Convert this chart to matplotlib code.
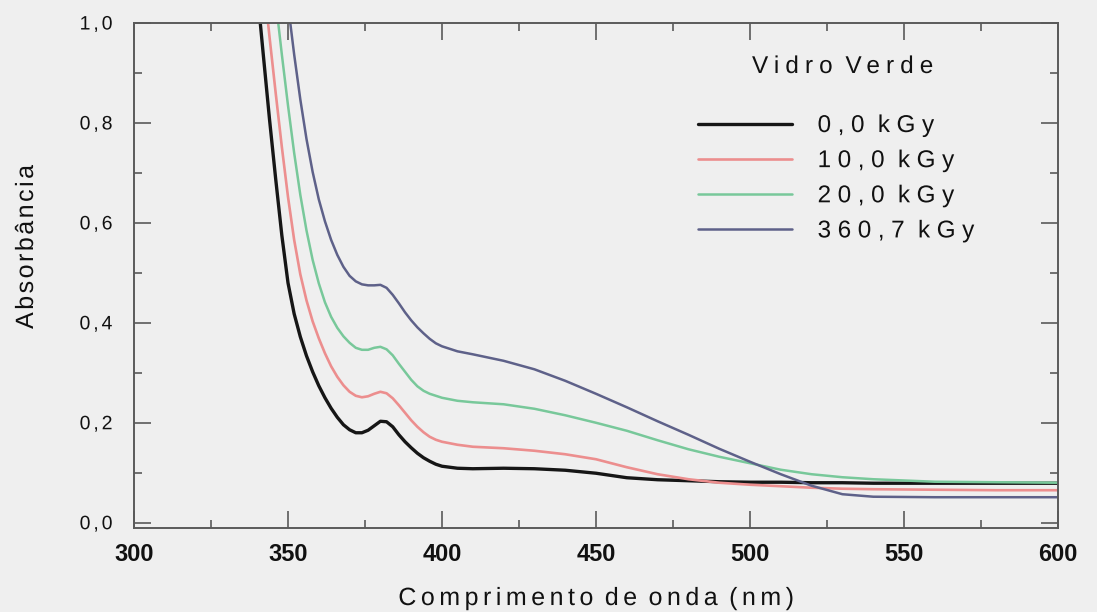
import numpy as np
import matplotlib
matplotlib.use("Agg")
import matplotlib.pyplot as plt
from matplotlib.path import Path
from matplotlib.patheffects import AbstractPathEffect

# UV-Vis absorbance of green glass after gamma irradiation
nan = float("nan")
wavelength = [340, 342, 344, 346, 348, 350, 352, 354, 356, 358, 360, 362, 364, 366, 368,
              370, 372, 374, 376, 378, 380, 382, 384, 386, 388, 390, 392, 394, 396, 398,
              400, 405, 410, 420, 430, 440, 450, 460, 470, 480, 490, 500, 510, 520, 530,
              540, 560, 580, 600]
abs_0kgy = [1.065, 0.935, 0.807, 0.688, 0.575, 0.48, 0.418, 0.372, 0.334, 0.302, 0.274,
            0.25, 0.229, 0.211, 0.196, 0.186, 0.18, 0.18, 0.185, 0.194, 0.203, 0.202,
            0.192, 0.176, 0.162, 0.15, 0.139, 0.13, 0.123, 0.117, 0.113,
            0.109, 0.108, 0.109, 0.108, 0.105, 0.099, 0.09, 0.086, 0.084, 0.082, 0.081,
            0.081, 0.080, 0.080, 0.079, 0.079, 0.079, 0.079]
abs_10kgy = [nan, 1.09, 0.972, 0.86, 0.752, 0.652, 0.566, 0.497, 0.445, 0.403, 0.369,
             0.339, 0.313, 0.292, 0.275, 0.262, 0.254, 0.251, 0.253, 0.258, 0.262, 0.259,
             0.249, 0.235, 0.22, 0.205, 0.192, 0.181, 0.172, 0.166, 0.162,
             0.156, 0.152, 0.149, 0.144, 0.137, 0.127, 0.111, 0.097, 0.087, 0.08, 0.076,
             0.073, 0.07, 0.068, 0.067, 0.066, 0.065, 0.065]
abs_20kgy = [nan, nan, 1.155, 1.045, 0.937, 0.835, 0.74, 0.656, 0.585, 0.526, 0.479,
             0.441, 0.412, 0.39, 0.373, 0.36, 0.35, 0.346, 0.346, 0.35, 0.352, 0.347,
             0.335, 0.318, 0.302, 0.286, 0.273, 0.264, 0.258, 0.254, 0.25,
             0.244, 0.241, 0.237, 0.228, 0.215, 0.2, 0.184, 0.165, 0.147, 0.132, 0.119,
             0.106, 0.097, 0.091, 0.087, 0.082, 0.081, 0.08]
abs_360kgy = [nan, nan, nan, nan, 1.14, 1.037, 0.937, 0.847, 0.768, 0.702, 0.647, 0.603,
              0.566, 0.536, 0.512, 0.494, 0.483, 0.477, 0.475, 0.475, 0.476, 0.47, 0.456,
              0.439, 0.421, 0.405, 0.391, 0.379, 0.368, 0.359, 0.353,
              0.343, 0.337, 0.324, 0.307, 0.284, 0.258, 0.231, 0.203, 0.176, 0.148, 0.122,
              0.097, 0.074, 0.057, 0.052, 0.051, 0.051, 0.051]

series_labels = ["0,0 kGy", "10,0 kGy", "20,0 kGy", "360,7 kGy"]
series_colors = ["#161616", "#ec8e8e", "#78c89a", "#5e6189"]
series_widths = [2.4, 1.9, 1.8, 1.8]

x_ticks = [300, 350, 400, 450, 500, 550, 600]
y_ticks = [0.0, 0.2, 0.4, 0.6, 0.8, 1.0]
y_tick_labels = [f"{v:.1f}".replace(".", ",") for v in y_ticks]


class Tracking(AbstractPathEffect):
    """Draw text glyphs with extra letter spacing (in em units)."""

    def __init__(self, em, anchor=0.0):
        super().__init__()
        self._em = em
        self._anchor = anchor

    def draw_path(self, renderer, gc, tpath, affine, rgbFace=None):
        verts = np.array(tpath.vertices, dtype=float)
        codes = tpath.codes
        if codes is None or len(verts) == 0:
            renderer.draw_path(gc, tpath, affine, rgbFace)
            return
        starts = list(np.flatnonzero(codes == Path.MOVETO))
        if not starts or starts[0] != 0:
            starts = [0] + starts
        starts.append(len(verts))
        groups = []
        for a, b in zip(starts[:-1], starts[1:]):
            real = codes[a:b] != Path.CLOSEPOLY
            xs = verts[a:b][real, 0]
            if len(xs) == 0:
                continue
            lo, hi = xs.min(), xs.max()
            if groups and lo < groups[-1][1] - 2.0:
                groups[-1][1] = max(groups[-1][1], hi)
                groups[-1][2].append((a, b))
            else:
                groups.append([lo, hi, [(a, b)]])
        step = self._em * 100.0
        lead = -(len(groups) - 1) * step * self._anchor
        for k, (_, _, spans) in enumerate(groups):
            for a, b in spans:
                verts[a:b, 0] += lead + k * step
        renderer.draw_path(gc, Path(verts, codes), affine, rgbFace)


plt.rcParams["font.family"] = ["Liberation Sans", "DejaVu Sans"]
BG = "#efefef"
SPINE = "#5a5a5a"

fig = plt.figure(figsize=(10.97, 6.12), dpi=100, facecolor=BG)
ax = fig.add_axes([134 / 1097, 1 - 528 / 612, 924 / 1097, 505 / 612])
ax.set_facecolor(BG)

for values, label, color, lw in zip([abs_0kgy, abs_10kgy, abs_20kgy, abs_360kgy],
                                    series_labels, series_colors, series_widths):
    ax.plot(wavelength, values, color=color, lw=lw, label=label,
            solid_capstyle="round", solid_joinstyle="round")

ax.set_xlim(300, 600)
ax.set_ylim(-0.0106, 1.0)

ax.set_xticks(x_ticks, [str(v) for v in x_ticks])
ax.set_xticks([325, 375, 425, 475, 525, 575], minor=True)
ax.set_yticks(y_ticks, y_tick_labels)
ax.set_yticks([0.1, 0.3, 0.5, 0.7, 0.9], minor=True)

for side in ax.spines.values():
    side.set_color(SPINE)
    side.set_linewidth(1.4)

ax.tick_params(which="both", direction="in", top=True, right=True,
               color=SPINE, width=1.2)
ax.tick_params(which="major", length=12.5)
ax.tick_params(which="minor", length=6)
ax.tick_params(axis="x", which="major", pad=11, labelsize=17)
ax.tick_params(axis="y", which="major", pad=15.5, labelsize=14)

for t in ax.get_xticklabels():
    t.set_fontweight("bold")
    t.set_color("#111111")
for t in ax.get_yticklabels():
    t.set_color("#111111")
    t.set_path_effects([Tracking(0.15, anchor=1.0)])

xl = ax.set_xlabel("Comprimento de onda (nm)", fontsize=18, color="#111111")
xl.set_path_effects([Tracking(0.18, anchor=0.5)])
ax.xaxis.set_label_coords(0.5, -0.1149)

yl = ax.set_ylabel("Absorbância", fontsize=18, color="#111111")
yl.set_path_effects([Tracking(0.10, anchor=0.5)])
ax.yaxis.set_label_coords(-0.1039, 0.5564)

leg = ax.legend(loc="upper left", bbox_to_anchor=(698 / 1097, 1 - 115 / 612),
                bbox_transform=fig.transFigure, frameon=False, borderpad=0,
                borderaxespad=0, fontsize=17.5, handlelength=3.87,
                handletextpad=1.05, labelspacing=0.54)
for t in leg.get_texts():
    t.set_color("#111111")
    t.set_path_effects([Tracking(0.27, anchor=0.0)])

title = fig.text(752 / 1097, 1 - 73 / 612, "Vidro Verde", ha="left", va="baseline",
                 fontsize=17.5, color="#111111")
title.set_path_effects([Tracking(0.25, anchor=0.0)])

fig.savefig("out.png", dpi=100, facecolor=BG)
